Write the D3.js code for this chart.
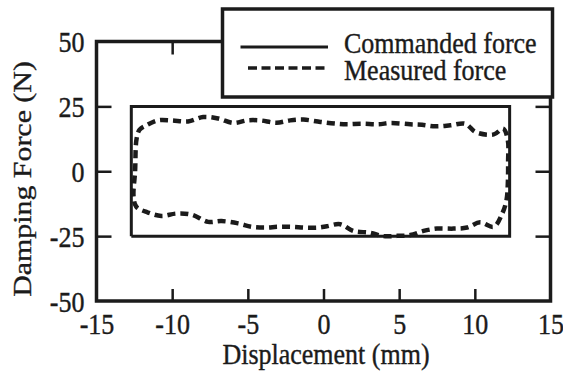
<!DOCTYPE html>
<html>
<head>
<meta charset="utf-8">
<script src="https://cdn.jsdelivr.net/npm/d3@7"></script>
<style>
  html, body { margin: 0; padding: 0; background: #fff; }
  svg { display: block; }
  text { stroke: #1b1b1b; stroke-width: 0.35px; }
</style>
</head>
<body>
<div id="chart"></div>
<script>
// commanded force: a rectangle loop
const commandedDisp = [-12.7, -12.7, 12.3, 12.3, -12.7];
const commandedForce = [-25, 25, 25, -25, -25];

// measured force (loop order)
const measuredDisp = [
  -12.55, -12.45, -12.35,
  -12.15, -11.7, -10.95, -10.05, -8.95, -7.95, -6.95, -5.95, -5.05, -4.2, -3.1, -2.2, -1.33, -0.2,
  0.88, 1.54, 2.53, 3.63, 4.45, 5.73, 6.51, 7.39, 8.38, 9.37, 10.05, 11.25, 11.87, 12.18,
  12.2, 12.18, 12.09, 11.81, 11.25,
  10.35, 9.49, 8.6, 7.5, 6.61, 5.73, 4.85, 3.96, 3.08, 1.98, 1.1, 0.22,
  -0.34, -1.22, -2.1, -2.99, -3.87, -4.75, -5.64, -6.74, -7.62, -8.72, -9.72, -10.71, -11.6, -12.37
];
const measuredForce = [
  -9.9, 0, 12.6,
  16.0, 17.7, 19.6, 19.6, 19.2, 20.9, 20.3, 18.6, 19.6, 19.6, 18.7, 19.6, 19.9, 19.0,
  18.3, 18.1, 18.3, 18.1, 18.6, 18.1, 17.9, 17.3, 17.7, 18.3, 15.1, 14.2, 16.4, 11.9,
  4, -4.7, -11.2, -16.3, -21.4,
  -19.7, -21.7, -22.1, -22.1, -23.0, -24.6, -24.9, -25, -23.7, -23.0, -20.4, -21.2,
  -21.7, -21.7, -21.4, -21.4, -21.7, -21.4, -20.1, -19.2, -19.5, -16.7, -16.3, -17.2, -15.9, -13.7
];

const xTicks = [-15, -10, -5, 0, 5, 10, 15];
const yTicks = [-50, -25, 0, 25, 50];
const legendLabels = ['Commanded force', 'Measured force'];

const width = 563, height = 378;
const ink = '#1b1b1b';
const font = '"Liberation Serif", "Times New Roman", serif';
const stretch = 1.15; // text in the scan is a bit taller than wide
const fmt = d => String(d); // plain hyphen minus, as in the scan

const x = d3.scaleLinear().domain([-15, 15]).range([96.5, 550.5]);
const y = d3.scaleLinear().domain([-50, 50]).range([301, 41.5]);

const svg = d3.select('#chart').append('svg')
  .attr('width', width)
  .attr('height', height)
  .attr('viewBox', [0, 0, width, height]);

// tick lines pointing inward, labels outside
const stretchLabels = g => g.selectAll('.tick text').each(function () {
  const t = d3.select(this);
  const ty = +t.attr('y') || 0;
  t.attr('y', 0).attr('transform', `translate(0,${ty}) scale(1,${stretch})`);
});

svg.append('g')
  .attr('transform', `translate(0,${y(-50)})`)
  .call(d3.axisBottom(x).tickValues(xTicks).tickSizeInner(-12).tickSizeOuter(0).tickPadding(13).tickFormat(fmt))
  .call(g => g.select('.domain').remove())
  .call(g => g.selectAll('.tick').filter(d => d === -15 || d === 15).select('line').remove())
  .call(g => g.selectAll('.tick line').attr('stroke', ink).attr('stroke-width', 2.5))
  .call(g => g.selectAll('.tick text').attr('fill', ink).attr('font-family', font).attr('font-size', 26).attr('dy', '0.66em'))
  .call(stretchLabels);

svg.append('g')
  .attr('transform', `translate(${x(-15)},0)`)
  .call(d3.axisLeft(y).tickValues(yTicks).tickSizeInner(-15).tickSizeOuter(0).tickPadding(12).tickFormat(fmt))
  .call(g => g.select('.domain').remove())
  .call(g => g.selectAll('.tick').filter(d => d === -50 || d === 50).select('line').remove())
  .call(g => g.selectAll('.tick line').attr('stroke', ink).attr('stroke-width', 2.5))
  .call(g => g.selectAll('.tick text').attr('fill', ink).attr('font-family', font).attr('font-size', 26))
  .call(g => g.selectAll('.tick text').each(function () {
    d3.select(this).attr('transform', `scale(1,${stretch})`).attr('dy', null).attr('y', null)
      .attr('dominant-baseline', 'central');
  }));

// top and right ticks
svg.append('g')
  .attr('transform', `translate(0,${y(50)})`)
  .call(d3.axisTop(x).tickValues([-10, -5, 0, 5, 10]).tickSizeInner(-13).tickSizeOuter(0).tickFormat(''))
  .call(g => g.select('.domain').remove())
  .call(g => g.selectAll('.tick line').attr('stroke', ink).attr('stroke-width', 2.5));

svg.append('g')
  .attr('transform', `translate(${x(15)},0)`)
  .call(d3.axisRight(y).tickValues([-25, 0, 25]).tickSizeInner(-15).tickSizeOuter(0).tickFormat(''))
  .call(g => g.select('.domain').remove())
  .call(g => g.selectAll('.tick line').attr('stroke', ink).attr('stroke-width', 2.5));

// plot frame
svg.append('rect')
  .attr('x', x(-15)).attr('y', y(50))
  .attr('width', x(15) - x(-15)).attr('height', y(-50) - y(50))
  .attr('fill', 'none').attr('stroke', ink).attr('stroke-width', 3.5);

// series
const commanded = d3.range(commandedDisp.length).map(i => [commandedDisp[i], commandedForce[i]]);
const measured = d3.range(measuredDisp.length).map(i => [measuredDisp[i], measuredForce[i]]);

svg.append('path')
  .attr('d', d3.line().x(d => x(d[0])).y(d => y(d[1]))(commanded))
  .attr('fill', 'none').attr('stroke', ink).attr('stroke-width', 3)
  .attr('stroke-linejoin', 'miter');

svg.append('path')
  .attr('d', d3.line().curve(d3.curveCatmullRomClosed).x(d => x(d[0])).y(d => y(d[1]))(measured))
  .attr('fill', 'none').attr('stroke', ink).attr('stroke-width', 4.5)
  .attr('stroke-dasharray', '8,5').attr('stroke-linecap', 'butt');

// legend
const legend = svg.append('g');
legend.append('rect')
  .attr('x', 222.5).attr('y', 9).attr('width', 330).attr('height', 88)
  .attr('fill', '#fff').attr('stroke', ink).attr('stroke-width', 3.5);
legend.append('line')
  .attr('x1', 240.5).attr('x2', 328).attr('y1', 47).attr('y2', 47)
  .attr('stroke', ink).attr('stroke-width', 3);
legend.append('line')
  .attr('x1', 248).attr('x2', 329).attr('y1', 68).attr('y2', 68)
  .attr('stroke', ink).attr('stroke-width', 3.5).attr('stroke-dasharray', '9,4.5');
legend.selectAll('text.lab')
  .data(legendLabels)
  .join('text')
  .attr('class', 'lab')
  .attr('transform', (d, i) => `translate(344,${i ? 80 : 53}) scale(1,${stretch})`)
  .attr('fill', ink).attr('font-family', font).attr('font-size', 26)
  .text(d => d);

// axis titles
svg.append('text')
  .attr('transform', `translate(326,364) scale(1,${stretch})`)
  .attr('text-anchor', 'middle')
  .attr('fill', ink).attr('font-family', font).attr('font-size', 26)
  .text('Displacement (mm)');

svg.append('text')
  .attr('transform', `translate(31,179) rotate(-90) scale(${stretch},1)`)
  .attr('text-anchor', 'middle')
  .attr('fill', ink).attr('font-family', font).attr('font-size', 26)
  .text('Damping Force (N)');
</script>
</body>
</html>
